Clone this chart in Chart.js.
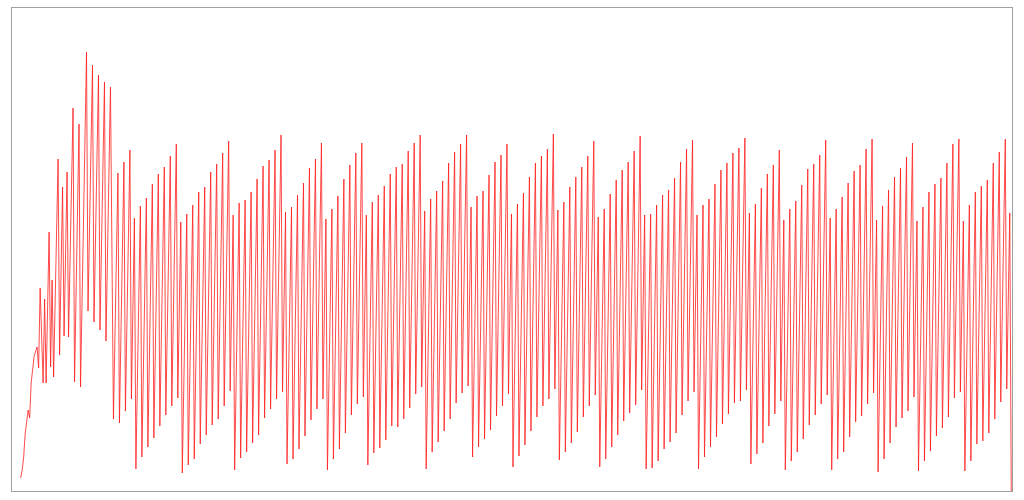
<!DOCTYPE html>
<html>
<head>
<meta charset="utf-8">
<script src="https://cdn.jsdelivr.net/npm/chart.js@4.4.1/dist/chart.umd.min.js"></script>
<style>
  html, body { margin: 0; padding: 0; background: #ffffff; }
  #wrap { width: 1024px; height: 500px; position: relative; }
</style>
</head>
<body>
<div id="wrap"><canvas id="c"></canvas></div>
<script>
// ---- Data (sample index -> signal level) ----
const warmupIdx  = [0,1,2,3,5,6,7,9,11,12,13,15,16,17,19,20,21,22,25,26,28,29,31,32,35,36,39,40,44,45,48,49,52,53,56,57,60,62,65,66,69,70,73,74];
const warmupVals = [13,21,34,57,81,73,108,135,144,123,203,108,192,108,259,124,211,114,332,136,304,155,319,154,383,109,367,104,439,180,426,169,416,161,409,150,404,72,318,68,329,80,341,92];

// Regular section: starts at sample 76; each cycle has N pulses (peak then trough)
const firstCycleIdx = 76;
const cycleSizes = [8,9,9,7,7,10,8,7,8,7,8,9,9,6,8,8,7,8,8,1];
const peakVals = [
  273,285,293,307,317,324,335,347,
  269,277,286,299,304,319,327,338,350,
  276,288,291,299,312,325,331,341,356,
  279,284,296,308,323,332,348,
  272,282,295,312,326,338,348,
  276,289,296,305,317,324,327,340,348,356,
  280,292,300,310,328,339,347,356,
  284,295,300,316,329,336,347,
  277,287,298,314,328,335,342,357,
  281,289,304,314,324,335,350,
  274,282,297,311,321,329,340,355,
  276,277,286,296,301,313,329,342,351,
  276,286,292,307,321,328,338,343,353,
  278,287,303,317,326,341,
  271,282,290,306,322,327,336,351,
  273,282,294,308,320,326,342,352,
  271,285,301,314,323,334,348,
  270,284,299,307,313,328,347,352,
  270,286,299,305,311,328,339,352,
  278
];
const troughVals = [
  22,34,44,53,65,76,85,93,
  18,26,32,47,56,66,72,85,100,
  21,33,39,48,56,73,82,92,99,
  27,32,42,55,71,82,92,
  21,32,42,58,76,87,94,
  26,38,43,51,65,64,72,83,97,104,
  22,39,49,60,72,88,98,105,
  34,44,52,61,75,85,97,
  24,35,46,60,74,85,92,102,
  31,39,48,59,74,85,96,
  24,32,44,56,70,78,86,101,
  22,23,30,42,49,58,76,90,99,
  22,34,44,54,67,77,88,90,101,
  27,37,48,65,77,90,
  21,30,39,52,66,76,87,96,
  21,32,39,54,69,75,87,98,
  19,32,48,64,73,80,94,
  20,30,40,55,63,74,93,99,
  20,30,47,50,58,72,89,102,
  0
];

// ---- Build points from the arrays ----
const points = [];
warmupIdx.forEach((ix, k) => points.push({ x: ix, y: warmupVals[k] }));
let idx = firstCycleIdx, p = 0;
cycleSizes.forEach(n => {
  for (let j = 0; j < n; j++) {
    points.push({ x: idx, y: peakVals[p] });
    points.push({ x: idx + 1, y: troughVals[p] });
    p++;
    idx += (j === n - 1) ? 3 : 4;
  }
});

const frame = {
  id: 'frame',
  afterDraw(chart) {
    const { ctx, chartArea: a } = chart;
    ctx.save();
    ctx.strokeStyle = '#a0a0a0';
    ctx.lineWidth = 1;
    ctx.strokeRect(Math.round(a.left) - 0.5, Math.round(a.top) - 0.5,
                   Math.round(a.right - a.left) + 1, Math.round(a.bottom - a.top) + 1);
    ctx.restore();
  }
};

new Chart(document.getElementById('c'), {
  type: 'line',
  data: {
    datasets: [{
      data: points,
      borderColor: 'rgba(255, 30, 30, 0.8)',
      borderWidth: 1,
      pointRadius: 0,
      tension: 0,
      fill: false
    }]
  },
  options: {
    responsive: true,
    maintainAspectRatio: false,
    animation: false,
    parsing: true,
    layout: { padding: { left: 12, right: 12, top: 8, bottom: 9 } },
    plugins: { legend: { display: false }, tooltip: { enabled: false } },
    scales: {
      x: { type: 'linear', min: -5.8, max: 662.5, display: false },
      y: { type: 'linear', min: 0, max: 483, display: false }
    }
  },
  plugins: [frame]
});
</script>
</body>
</html>
